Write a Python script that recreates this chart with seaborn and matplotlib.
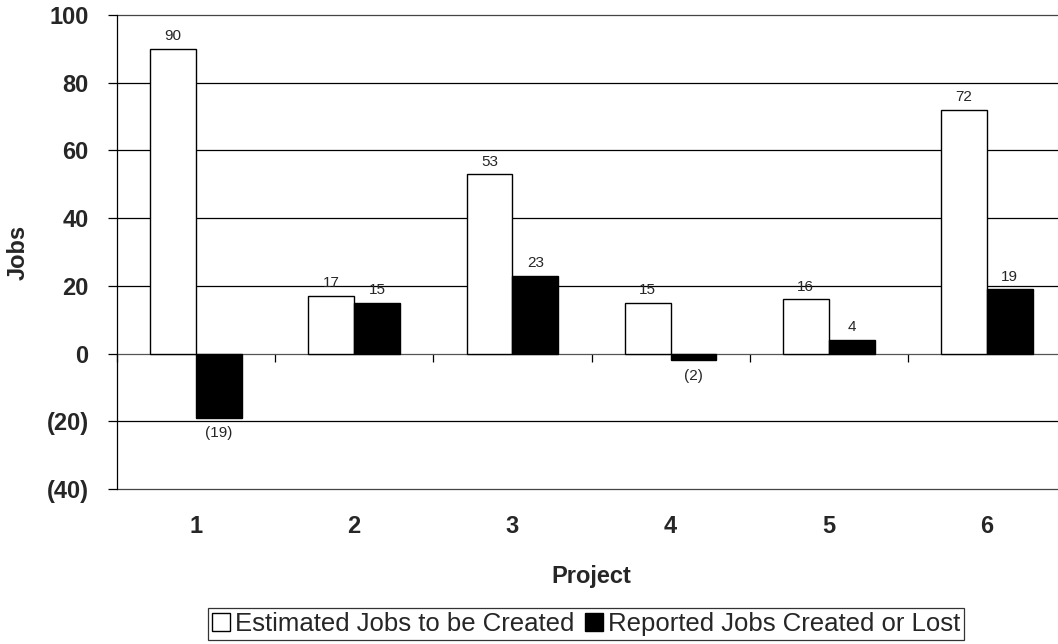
import matplotlib
matplotlib.use("Agg")
import matplotlib.pyplot as plt
import seaborn as sns
import pandas as pd
from matplotlib.patches import Patch

projects = ["1", "2", "3", "4", "5", "6"]
estimated = [90, 17, 53, 15, 16, 72]
reported = [-19, 15, 23, -2, 4, 19]
series_names = ["Estimated Jobs to be Created", "Reported Jobs Created or Lost"]
yticks = [-40, -20, 0, 20, 40, 60, 80, 100]

def fmt(v):
    return f"({abs(v)})" if v < 0 else f"{v}"

df = pd.DataFrame({
    "Project": projects * 2,
    "Jobs": estimated + reported,
    "Series": [series_names[0]] * len(projects) + [series_names[1]] * len(projects),
})

sns.set_style("white")
plt.rcParams["font.family"] = ["Liberation Sans", "DejaVu Sans"]

W, H = 1058, 644
L, R, T, B = 117, 1066, 15, 489
fig = plt.figure(figsize=(W / 100, H / 100), dpi=100)
ax = fig.add_axes([L / W, 1 - B / H, (R - L) / W, (B - T) / H])

sns.barplot(data=df, x="Project", y="Jobs", hue="Series", order=projects,
            hue_order=series_names, palette=["white", "black"],
            edgecolor="black", linewidth=1.0, width=0.58, ax=ax, legend=False,
            zorder=3)

ax.set_ylim(-40, 100)
ax.set_xlim(-0.5, len(projects) - 0.5)

for y in yticks:
    if y == 0:
        continue
    ax.axhline(y, color="#444444" if y in (100, -40) else "black", lw=0.9, zorder=1, clip_on=False)

# value labels
for cont, vals in zip(ax.containers, [estimated, reported]):
    for bar, v in zip(cont, vals):
        x = bar.get_x() + bar.get_width() / 2
        if v >= 0:
            ax.annotate(fmt(v), (x, v), xytext=(0, 4), textcoords="offset points",
                        ha="center", va="bottom", fontsize=11)
        else:
            ax.annotate(fmt(v), (x, v), xytext=(0, -6), textcoords="offset points",
                        ha="center", va="top", fontsize=11)

ax.set_yticks(yticks)
ax.set_yticklabels([fmt(v) for v in yticks], fontsize=17, fontweight="bold")
ax.tick_params(axis="y", length=6.5, width=0.9, color="black", direction="out", left=True, pad=14)

# x axis at zero
for s in ["top", "right"]:
    ax.spines[s].set_visible(False)
ax.spines["left"].set_color("black")
ax.spines["left"].set_linewidth(0.9)
ax.spines["bottom"].set_position(("data", 0))
ax.spines["bottom"].set_color("#555555")
ax.spines["bottom"].set_linewidth(0.9)
ax.spines["bottom"].set_zorder(2)

ax.set_xticks(range(len(projects)))
ax.set_xticklabels(projects, fontsize=17, fontweight="bold")
ax.set_xticks([i + 0.5 for i in range(-1, len(projects) - 1)], minor=True)
ax.tick_params(axis="x", which="major", length=0, pad=116)
ax.tick_params(axis="x", which="minor", length=5.5, width=0.9, color="black", direction="out", bottom=True)

ax.set_xlabel("Project", fontsize=17, fontweight="bold")
ax.xaxis.set_label_coords(0.5, -(576 - B) / (B - T))
ax.xaxis.label.set_va("center")
ax.set_ylabel("Jobs", fontsize=17, fontweight="bold")
ax.yaxis.set_label_coords(-(L - 18) / (R - L), 0.5)
ax.yaxis.label.set_va("center")

handles = [Patch(facecolor="white", edgecolor="black", lw=1.0),
           Patch(facecolor="black", edgecolor="black", lw=1.0)]
leg = fig.legend(handles, series_names, loc="center", bbox_to_anchor=(586 / W, 1 - 624 / H),
                 ncol=2, fontsize=18.5, frameon=True, fancybox=False, handlelength=0.7,
                 handleheight=0.7, handletextpad=0.2, columnspacing=0.4, borderpad=0.15,
                 borderaxespad=0)
leg.get_frame().set_edgecolor("black")
leg.get_frame().set_linewidth(0.9)

fig.savefig("out.png", dpi=100)
